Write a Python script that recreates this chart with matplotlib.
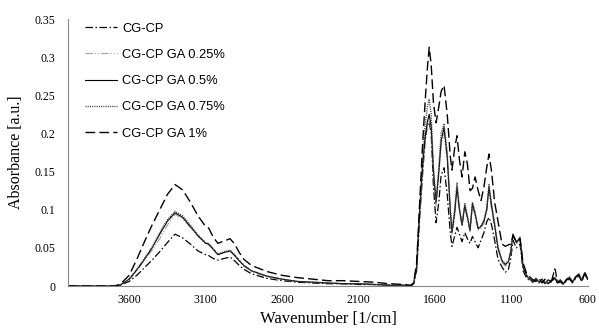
import matplotlib.pyplot as plt

# Wavenumber grid (1/cm), shared by all spectra
wavenumber = [4000, 3800, 3700, 3660, 3600, 3550, 3500, 3450, 3400, 3350, 3300,
              3250, 3200, 3150, 3100, 3080, 3050, 3020, 2980, 2940, 2910, 2880,
              2850, 2800, 2700, 2600, 2500, 2400, 2300, 2200, 2100, 2000, 1900,
              1800, 1760, 1740, 1720, 1700, 1680, 1665, 1650, 1638, 1625, 1610,
              1593, 1575, 1560, 1541, 1520, 1500, 1489, 1472, 1456, 1440, 1423,
              1405, 1388, 1371, 1355, 1338, 1318, 1299, 1280, 1262, 1247, 1230,
              1210, 1188, 1162, 1140, 1120, 1105, 1090, 1068, 1044, 1024, 1000,
              980, 960, 940, 920, 900, 880, 860, 840, 815, 800, 780, 760, 740,
              720, 700, 680, 660, 640, 620, 600]

cgcp = [0.0, 0.0, 0.0, 0.001, 0.006, 0.014, 0.024, 0.034, 0.045, 0.057, 0.068,
        0.063, 0.055, 0.046, 0.041, 0.040, 0.036, 0.034, 0.036, 0.038, 0.033, 0.027,
        0.022, 0.016, 0.010, 0.007, 0.005, 0.004, 0.003, 0.003, 0.002, 0.002, 0.001,
        0.001, 0.0, 0.003, 0.02, 0.09, 0.15, 0.19, 0.21, 0.215, 0.20, 0.13,
        0.083, 0.11, 0.145, 0.155, 0.12, 0.07, 0.052, 0.065, 0.077, 0.068, 0.058,
        0.07, 0.062, 0.056, 0.065, 0.058, 0.05, 0.06, 0.07, 0.084, 0.09, 0.08,
        0.06, 0.035, 0.025, 0.018, 0.022, 0.035, 0.06, 0.05, 0.055, 0.02, 0.01,
        0.007, 0.005, 0.008, 0.004, 0.007, 0.003, 0.006, 0.005, 0.024, 0.004, 0.006,
        0.002, 0.007, 0.009, 0.004, 0.010, 0.013, 0.006, 0.015, 0.008]

ga025 = [0.0, 0.0, 0.0, 0.001, 0.008, 0.020, 0.034, 0.047, 0.062, 0.080, 0.094,
         0.088, 0.077, 0.065, 0.055, 0.054, 0.048, 0.041, 0.044, 0.045, 0.040, 0.033,
         0.026, 0.019, 0.012, 0.008, 0.006, 0.005, 0.004, 0.003, 0.003, 0.002, 0.001,
         0.001, 0.0, 0.003, 0.024, 0.095, 0.155, 0.19, 0.21, 0.22, 0.205, 0.145,
         0.105, 0.145, 0.185, 0.20, 0.165, 0.095, 0.068, 0.09, 0.125, 0.097, 0.078,
         0.102, 0.088, 0.071, 0.104, 0.092, 0.073, 0.076, 0.082, 0.097, 0.125, 0.10,
         0.076, 0.048, 0.031, 0.026, 0.030, 0.043, 0.066, 0.055, 0.061, 0.024, 0.012,
         0.008, 0.006, 0.009, 0.005, 0.008, 0.004, 0.007, 0.006, 0.012, 0.005, 0.007,
         0.003, 0.008, 0.010, 0.005, 0.011, 0.014, 0.007, 0.016, 0.009]

ga05 = [0.0, 0.0, 0.0, 0.001, 0.009, 0.021, 0.035, 0.050, 0.068, 0.085, 0.096,
        0.090, 0.078, 0.066, 0.056, 0.055, 0.048, 0.041, 0.044, 0.046, 0.040, 0.033,
        0.027, 0.020, 0.013, 0.009, 0.006, 0.005, 0.004, 0.003, 0.003, 0.002, 0.001,
        0.001, 0.0, 0.003, 0.025, 0.10, 0.16, 0.195, 0.215, 0.225, 0.21, 0.15,
        0.11, 0.15, 0.19, 0.208, 0.17, 0.10, 0.07, 0.095, 0.13, 0.10, 0.08,
        0.106, 0.09, 0.073, 0.108, 0.095, 0.075, 0.078, 0.085, 0.10, 0.13, 0.105,
        0.08, 0.05, 0.033, 0.028, 0.032, 0.045, 0.068, 0.057, 0.063, 0.025, 0.013,
        0.009, 0.006, 0.010, 0.005, 0.009, 0.004, 0.008, 0.006, 0.010, 0.005, 0.008,
        0.003, 0.009, 0.011, 0.005, 0.012, 0.015, 0.007, 0.017, 0.009]

ga075 = [0.0, 0.0, 0.0, 0.001, 0.009, 0.022, 0.036, 0.051, 0.070, 0.087, 0.098,
         0.092, 0.080, 0.067, 0.057, 0.056, 0.049, 0.042, 0.045, 0.047, 0.041, 0.034,
         0.027, 0.020, 0.013, 0.009, 0.006, 0.005, 0.004, 0.003, 0.003, 0.002, 0.001,
         0.001, 0.0, 0.003, 0.026, 0.10, 0.17, 0.21, 0.235, 0.245, 0.225, 0.155,
         0.11, 0.155, 0.20, 0.213, 0.175, 0.10, 0.072, 0.10, 0.135, 0.102, 0.082,
         0.108, 0.092, 0.074, 0.11, 0.097, 0.076, 0.079, 0.086, 0.102, 0.133, 0.107,
         0.082, 0.051, 0.034, 0.029, 0.033, 0.046, 0.069, 0.058, 0.064, 0.026, 0.014,
         0.009, 0.007, 0.010, 0.006, 0.009, 0.004, 0.008, 0.007, 0.011, 0.006, 0.008,
         0.004, 0.009, 0.012, 0.006, 0.012, 0.016, 0.008, 0.018, 0.010]

ga1 = [0.0, 0.0, 0.0, 0.002, 0.014, 0.035, 0.058, 0.080, 0.100, 0.120, 0.133,
       0.126, 0.110, 0.092, 0.078, 0.076, 0.064, 0.056, 0.059, 0.062, 0.055, 0.044,
       0.035, 0.027, 0.019, 0.014, 0.011, 0.009, 0.007, 0.007, 0.006, 0.005, 0.003,
       0.002, 0.001, 0.004, 0.03, 0.11, 0.19, 0.24, 0.285, 0.313, 0.29, 0.24,
       0.214, 0.235, 0.255, 0.263, 0.225, 0.17, 0.152, 0.18, 0.197, 0.165, 0.143,
       0.176, 0.16, 0.125, 0.128, 0.143, 0.125, 0.112, 0.13, 0.155, 0.173, 0.15,
       0.11, 0.085, 0.055, 0.052, 0.054, 0.055, 0.066, 0.058, 0.062, 0.03, 0.016,
       0.012, 0.008, 0.006, 0.010, 0.004, 0.009, 0.003, 0.007, 0.012, 0.004, 0.006,
       0.002, 0.008, 0.010, 0.005, 0.012, 0.015, 0.008, 0.017, 0.010]

labels = ["CG-CP", "CG-CP GA 0.25%", "CG-CP GA 0.5%", "CG-CP GA 0.75%", "CG-CP GA 1%"]
x_ticks = [3600, 3100, 2600, 2100, 1600, 1100, 600]
y_ticks = [0, 0.05, 0.1, 0.15, 0.2, 0.25, 0.3, 0.35]

fig = plt.figure(figsize=(5.99, 3.28), dpi=100)
ax = fig.add_axes([0.1135, 0.128, 0.868, 0.814])

# line styles roughly like the Excel ones
ax.plot(wavenumber, cgcp, color='black', lw=0.9, dashes=(6, 2, 1.2, 2), label=labels[0])
ax.plot(wavenumber, ga025, color='#a8a8a8', lw=0.9, dashes=(6, 1.5, 1, 1.5, 1, 1.5), label=labels[1])
ax.plot(wavenumber, ga05, color='black', lw=0.8, label=labels[2])
ax.plot(wavenumber, ga075, color='#444444', lw=1.0, dashes=(0.8, 0.8), label=labels[3])
ax.plot(wavenumber, ga1, color='black', lw=1.0, dashes=(7, 3), label=labels[4])

ax.set_xlim(4000, 600)
ax.set_ylim(0, 0.35)
ax.set_xticks(x_ticks)
ax.set_xticklabels([str(t) for t in x_ticks])
ax.set_yticks(y_ticks)
ax.set_yticklabels(["0", "0.05", "0.1", "0.15", "0.2", "0.25", "0.3", "0.35"])

serif = ['Liberation Serif', 'DejaVu Serif']
for lab in ax.get_xticklabels() + ax.get_yticklabels():
    lab.set_family(serif)
    lab.set_fontsize(8.5)
ax.tick_params(axis='x', length=0, pad=6)
ax.tick_params(axis='y', length=0, pad=9)

for side in ['top', 'right']:
    ax.spines[side].set_visible(False)
for side in ['left', 'bottom']:
    ax.spines[side].set_color('#888888')
    ax.spines[side].set_linewidth(0.8)

ax.set_xlabel("Wavenumber [1/cm]", family=serif, fontsize=12, labelpad=3)
ax.set_ylabel("Absorbance [a.u.]", family=serif, fontsize=11.5, labelpad=8)

ax.legend(loc='upper left', bbox_to_anchor=(0.0105, 1.03), frameon=False,
          prop={'family': ['Liberation Sans', 'DejaVu Sans'], 'size': 9.3},
          handlelength=2.5, handletextpad=0.35, labelspacing=1.1)

fig.savefig("out.png", dpi=100)
